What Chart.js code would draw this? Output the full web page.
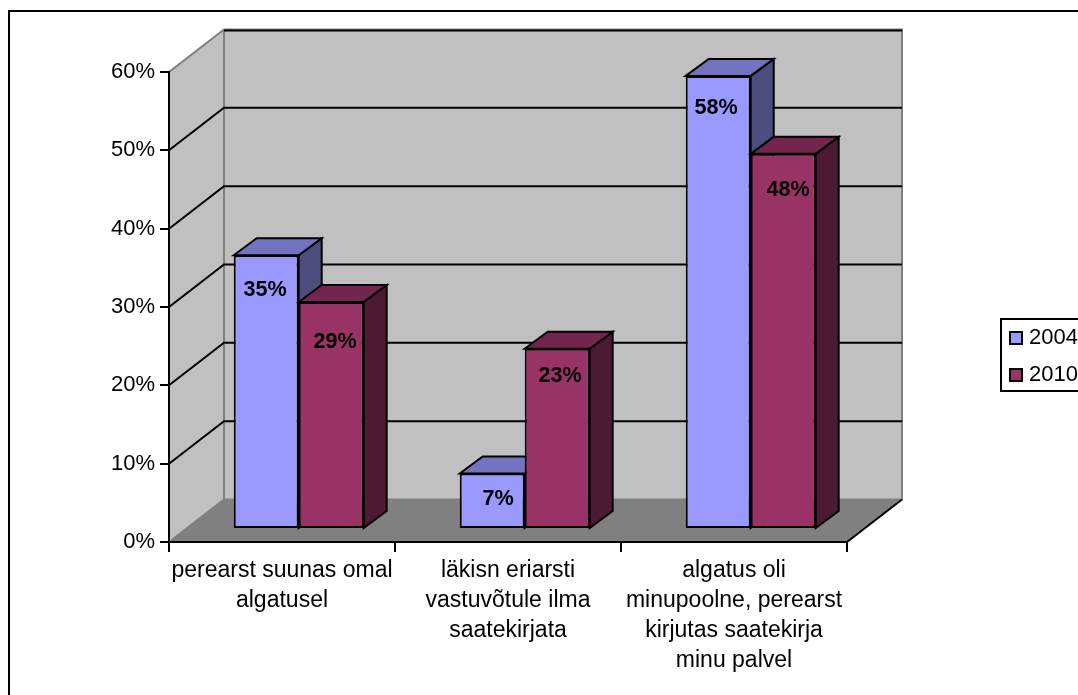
<!DOCTYPE html>
<html><head><meta charset="utf-8">
<style>html,body{margin:0;padding:0;background:#fff}#w{width:1078px;height:695px;position:relative}</style>
<script src="https://cdn.jsdelivr.net/npm/chart.js@4/dist/chart.umd.min.js"></script>
</head><body><div id="w"><canvas id="c" width="1078" height="695"></canvas></div>
<script>
const categories = [
  ["perearst suunas omal", "algatusel"],
  ["läkisn eriarsti", "vastuvõtule ilma", "saatekirjata"],
  ["algatus oli", "minupoolne, perearst", "kirjutas saatekirja", "minu palvel"]
];
const seriesNames = ["2004", "2010"];
const values2004 = [35, 7, 58];
const values2010 = [29, 23, 48];
const yTicks = [0, 10, 20, 30, 40, 50, 60];

const FONT = '"Liberation Sans", Arial, sans-serif';
const WALL = '#C0C0C0', FLOOR = '#808080';
const COL = [{front:'#9999FF',top:'#7373BF',side:'#4D4D80'},{front:'#993366',top:'#73264D',side:'#4D1A33'}];
const BACK = {x:55, y:-42.5};       // depth of the plot box
const BAR_SHIFT = {x:16.7, y:-14};  // bars stand in the middle of the floor
const BAR_DEPTH = {x:23, y:-17};
// offsets of each value label from the top centre of its bar
const LABEL_NUDGE = [[[-1,35],[6,26],[-2,32]],[[4,40],[3,27],[5,36]]];

function poly(ctx, pts, fill, stroke, lw){
  ctx.beginPath();
  pts.forEach((p,i)=> i?ctx.lineTo(p[0],p[1]):ctx.moveTo(p[0],p[1]));
  ctx.closePath();
  if(fill){ctx.fillStyle=fill;ctx.fill();}
  if(stroke){ctx.strokeStyle=stroke;ctx.lineWidth=lw;ctx.lineJoin='miter';ctx.stroke();}
}
function line(ctx, pts, color, lw){
  ctx.beginPath();
  pts.forEach((p,i)=> i?ctx.lineTo(p[0],p[1]):ctx.moveTo(p[0],p[1]));
  ctx.strokeStyle=color;ctx.lineWidth=lw;ctx.stroke();
}

const box3d = {
  id:'box3d',
  beforeDraw(chart){
    const {ctx, chartArea:a, scales:{y}} = chart;
    const L=a.left,R=a.right,T=a.top,B=a.bottom,dx=BACK.x,dy=BACK.y;
    ctx.save();
    ctx.fillStyle='#fff';ctx.fillRect(0,0,chart.width,chart.height);
    ctx.strokeStyle='#000';ctx.lineWidth=2;ctx.strokeRect(9,11,chart.width+20,chart.height+20);
    poly(ctx,[[L+dx,T+dy],[R+dx,T+dy],[R+dx,B+dy],[L+dx,B+dy]],WALL);
    poly(ctx,[[L,T],[L+dx,T+dy],[L+dx,B+dy],[L,B]],WALL);
    poly(ctx,[[L,B],[R,B],[R+dx,B+dy],[L+dx,B+dy]],FLOOR);
    line(ctx,[[L,T],[L+dx,T+dy],[R+dx,T+dy],[R+dx,B+dy],[L+dx,B+dy],[L+dx,T+dy]],FLOOR,2);
    line(ctx,[[L,B],[L+dx,B+dy]],FLOOR,2);
    yTicks.forEach(v=>{
      if(v===0) return;
      const py=y.getPixelForValue(v);
      if(v===60){ line(ctx,[[L+dx,py+dy+1],[R+dx,py+dy+1]],'#000',2); return; }
      line(ctx,[[L,py],[L+dx,py+dy],[R+dx,py+dy]],'#000',2);
    });
    line(ctx,[[R,B],[R+dx,B+dy]],'#000',2);
    ctx.restore();
  },
  // Bars are painted series by series, 2004 first, so that 2010 stands in front of its side face
  beforeDatasetsDraw(chart){
    const ctx=chart.ctx;
    chart.data.datasets.forEach((ds,i)=>{
      const meta=chart.getDatasetMeta(i), c=COL[i];
      ctx.save();
      ctx.translate(BAR_SHIFT.x,BAR_SHIFT.y);
      meta.data.forEach(b=>{
        const p=b.getProps(['x','y','base','width'],true);
        const l=p.x-p.width/2,r=p.x+p.width/2,t=p.y,bt=p.base,dx=BAR_DEPTH.x,dy=BAR_DEPTH.y;
        poly(ctx,[[r,t],[r+dx,t+dy],[r+dx,bt+dy],[r,bt]],c.side,'#000',2);
        poly(ctx,[[l,t],[l+dx,t+dy],[r+dx,t+dy],[r,t]],c.top,'#000',2);
        b.draw(ctx);
      });
      ctx.restore();
    });
    return false;
  },
  afterDraw(chart){
    const ctx=chart.ctx;
    ctx.save();
    ctx.fillStyle='#000';ctx.font='bold 21.6px '+FONT;ctx.textAlign='center';ctx.textBaseline='middle';
    chart.data.datasets.forEach((ds,i)=>{
      chart.getDatasetMeta(i).data.forEach((b,j)=>{
        const p=b.getProps(['x','y'],true),n=LABEL_NUDGE[i][j];
        ctx.fillText(ds.data[j]+'%',p.x+BAR_SHIFT.x+n[0],p.y+BAR_SHIFT.y+n[1]);
      });
    });
    ctx.strokeStyle='#000';ctx.lineWidth=2;ctx.strokeRect(1001,319,120,72);
    ctx.font='22px '+FONT;ctx.textAlign='left';
    chart.data.datasets.forEach((ds,i)=>{
      const yc=338+i*37;
      ctx.fillStyle=ds.backgroundColor;ctx.fillRect(1010,yc-6,12,12);
      ctx.strokeRect(1010,yc-6,12,12);
      ctx.fillStyle='#000';ctx.fillText(ds.label,1029,yc);
    });
    ctx.restore();
  }
};

new Chart(document.getElementById('c'),{
  type:'bar',
  data:{labels:categories,datasets:[
    {label:seriesNames[0],data:values2004,yAxisID:'yBar',backgroundColor:COL[0].front,borderColor:'#000',borderWidth:2,borderSkipped:false},
    {label:seriesNames[1],data:values2010,yAxisID:'yBar',backgroundColor:COL[1].front,borderColor:'#000',borderWidth:2,borderSkipped:false}
  ]},
  options:{
    responsive:false,animation:false,devicePixelRatio:1,
    layout:{padding:{left:0,top:72,right:231,bottom:0}},
    plugins:{legend:{display:false},tooltip:{enabled:false},title:{display:false}},
    datasets:{bar:{categoryPercentage:0.575,barPercentage:1}},
    scales:{
      x:{
        afterFit(s){s.height=153;},
        grid:{display:true,drawOnChartArea:false,drawTicks:true,tickLength:10,color:'#000',lineWidth:2},
        border:{display:true,color:'#000',width:2},
        ticks:{color:'#000',font:{family:FONT,size:23,lineHeight:1.3},maxRotation:0,minRotation:0,autoSkip:false,padding:4},
      },
      y:{
        min:0,max:60,
        afterFit(s){s.width=169;},
        afterBuildTicks(s){s.ticks=yTicks.map(v=>({value:v}));},
        grid:{display:true,drawOnChartArea:false,drawTicks:true,tickLength:9,color:'#000',lineWidth:2},
        border:{display:true,color:'#000',width:2},
        ticks:{color:'#000',font:{family:FONT,size:22},padding:5,callback:v=>v+'%'}
      },
      // bars stand slightly compressed inside the box, so they use their own hidden scale
      yBar:{display:false,min:0,max:60.3}
    }
  },
  plugins:[box3d]
});
</script></body></html>
